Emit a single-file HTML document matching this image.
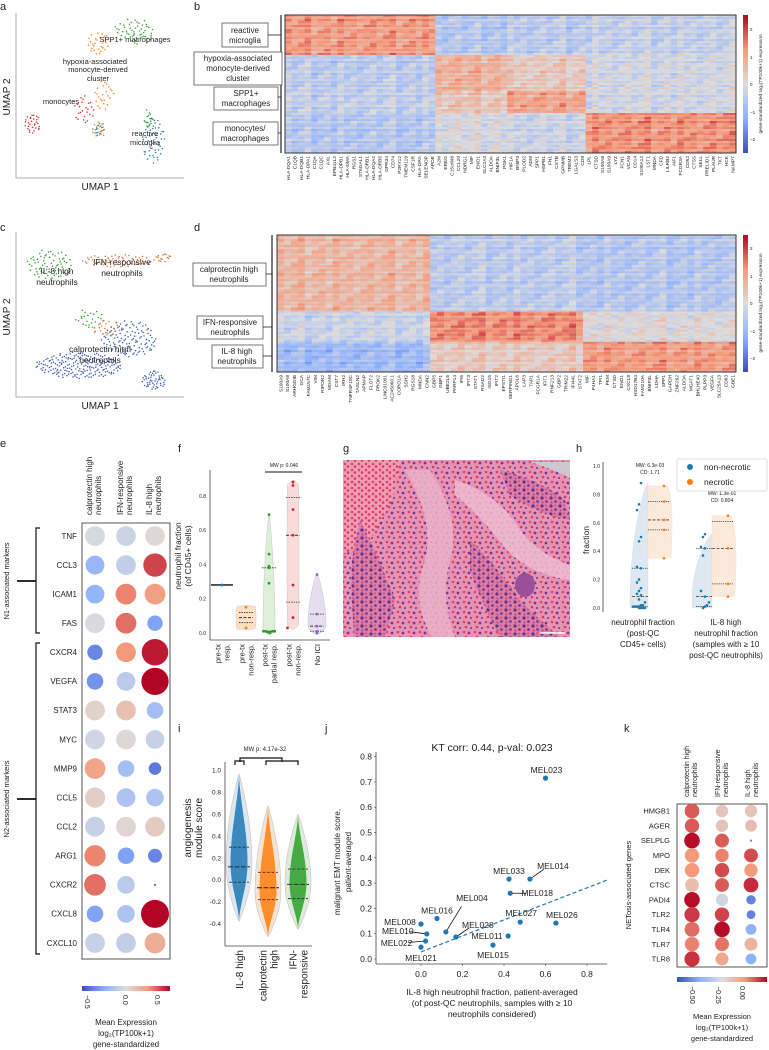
<!DOCTYPE html>
<html><head><meta charset="utf-8">
<style>
body{margin:0;background:#fff}
svg{display:block;font-family:"Liberation Sans",sans-serif}
text{fill:#222}
</style></head>
<body>
<svg id="fig" width="769" height="1050" viewBox="0 0 769 1050" xmlns="http://www.w3.org/2000/svg">
<defs>
  <linearGradient id="cwV" x1="0" y1="1" x2="0" y2="0">
    <stop offset="0" stop-color="#3b4cc0"/><stop offset="0.25" stop-color="#8db0fe"/><stop offset="0.5" stop-color="#dddddd"/><stop offset="0.75" stop-color="#f49a7b"/><stop offset="1" stop-color="#b40426"/>
  </linearGradient>
  <linearGradient id="cwH" x1="0" y1="0" x2="1" y2="0">
    <stop offset="0" stop-color="#3b4cc0"/><stop offset="0.25" stop-color="#8db0fe"/><stop offset="0.5" stop-color="#dddddd"/><stop offset="0.75" stop-color="#f49a7b"/><stop offset="1" stop-color="#b40426"/>
  </linearGradient>
  <pattern id="nuc" width="9" height="8" patternUnits="userSpaceOnUse">
    <rect width="9" height="8" fill="#d77fa8"/>
    <circle cx="2" cy="2" r="1.6" fill="#6b2f86"/><circle cx="6.5" cy="5.5" r="1.4" fill="#7d3a93"/><circle cx="6" cy="1.5" r="1" fill="#e0456a"/><circle cx="2.5" cy="6.5" r="1" fill="#d8365e"/>
  </pattern>
  <pattern id="mix" width="11" height="10" patternUnits="userSpaceOnUse">
    <rect width="11" height="10" fill="#e494b4"/>
    <circle cx="2" cy="2" r="1.3" fill="#e2415f"/><circle cx="7" cy="3" r="1.4" fill="#7a3690"/><circle cx="4" cy="7" r="1.3" fill="#dc3a5c"/><circle cx="9" cy="8" r="1.1" fill="#8a4399"/>
  </pattern>
  <pattern id="rbc" width="7" height="6" patternUnits="userSpaceOnUse">
    <rect width="7" height="6" fill="#ee9cb8"/>
    <circle cx="2" cy="2" r="1.3" fill="#e2415f"/><circle cx="5" cy="4.5" r="1.3" fill="#dc3a5c"/>
  </pattern>
</defs>

<text x="0" y="10" font-size="11">a</text>
<text x="194" y="10" font-size="11">b</text>
<text x="0" y="231" font-size="11">c</text>
<text x="194" y="231" font-size="11">d</text>
<text x="0" y="447" font-size="11">e</text>
<text x="178" y="452" font-size="11">f</text>
<text x="343" y="452" font-size="11">g</text>
<text x="576" y="452" font-size="11">h</text>
<text x="178" y="732" font-size="11">i</text>
<text x="325" y="732" font-size="11">j</text>
<text x="624" y="732" font-size="11">k</text>

<g>
  <line x1="16" y1="13" x2="16" y2="178" stroke="#999" stroke-width="0.8"/>
  <line x1="16" y1="178" x2="184" y2="178" stroke="#999" stroke-width="0.8"/>
  <text x="100" y="190" font-size="10" text-anchor="middle">UMAP 1</text>
  <text transform="translate(10,97) rotate(-90)" font-size="10" text-anchor="middle">UMAP 2</text>
</g>
<g id="umapA"></g>
<g font-size="7.5" text-anchor="middle">
  <text x="135" y="42">SPP1+ macrophages</text>
  <text x="95" y="64">hypoxia-associated</text>
  <text x="98" y="72">monocyte-derived</text>
  <text x="98" y="81">cluster</text>
  <text x="61" y="104">monocytes</text>
  <text x="145" y="136">reactive</text>
  <text x="145" y="145">microglia</text>
</g>

<g>
  <line x1="16" y1="232" x2="16" y2="397" stroke="#999" stroke-width="0.8"/>
  <line x1="16" y1="397" x2="184" y2="397" stroke="#999" stroke-width="0.8"/>
  <text x="100" y="409" font-size="10" text-anchor="middle">UMAP 1</text>
  <text transform="translate(10,317) rotate(-90)" font-size="10" text-anchor="middle">UMAP 2</text>
</g>
<g id="umapC"></g>
<g font-size="8.5" text-anchor="middle">
  <text x="57" y="274">IL-8 high</text>
  <text x="57" y="285">neutrophils</text>
  <text x="122" y="265">IFN-responsive</text>
  <text x="122" y="276">neutrophils</text>
  <text x="100" y="352">calprotectin high</text>
  <text x="100" y="363">neutrophils</text>
</g>

<g id="heatB"></g>
<g id="heatD"></g>

<g font-size="8" text-anchor="middle" stroke-width="0.8">
  <line x1="281" y1="15" x2="281" y2="153" stroke="#222" stroke-width="1.2"/>
  <rect x="222" y="23" width="46" height="24" fill="#fff" stroke="#555"/>
  <text x="245" y="33">reactive</text>
  <text x="245" y="43">microglia</text>
  <line x1="268" y1="35" x2="281" y2="35" stroke="#222"/>
  <rect x="194" y="52" width="88" height="33" fill="#fff" stroke="#555"/>
  <text x="238" y="61">hypoxia-associated</text>
  <text x="238" y="71">monocyte-derived</text>
  <text x="238" y="81">cluster</text>
  <rect x="214" y="87" width="64" height="23" fill="#fff" stroke="#555"/>
  <text x="246" y="96">SPP1+</text>
  <text x="246" y="106">macrophages</text>
  <line x1="278" y1="97" x2="281" y2="97" stroke="#222"/>
  <rect x="213" y="122" width="65" height="23" fill="#fff" stroke="#555"/>
  <text x="245" y="131">monocytes/</text>
  <text x="245" y="141">macrophages</text>
  <line x1="278" y1="133" x2="281" y2="133" stroke="#222"/>
</g>
<g font-size="8" text-anchor="middle" stroke-width="0.8">
  <line x1="272" y1="235" x2="272" y2="372" stroke="#222" stroke-width="1.2"/>
  <rect x="193" y="263" width="73" height="23" fill="#fff" stroke="#555"/>
  <text x="229" y="272">calprotectin high</text>
  <text x="229" y="282">neutrophils</text>
  <line x1="266" y1="274" x2="272" y2="274" stroke="#222"/>
  <rect x="197" y="316" width="66" height="23" fill="#fff" stroke="#555"/>
  <text x="230" y="325">IFN-responsive</text>
  <text x="230" y="335">neutrophils</text>
  <line x1="263" y1="327" x2="272" y2="327" stroke="#222"/>
  <rect x="212" y="345" width="51" height="23" fill="#fff" stroke="#555"/>
  <text x="237" y="354">IL-8 high</text>
  <text x="237" y="364">neutrophils</text>
  <line x1="263" y1="356" x2="272" y2="356" stroke="#222"/>
</g>
<g font-size="4.5">
  <rect x="743" y="15" width="5" height="138" fill="url(#cwV)"/>
  <text x="750" y="31">2</text><text x="750" y="59">1</text><text x="750" y="86">0</text><text x="750" y="114">−1</text><text x="750" y="141">−2</text>
  <text transform="translate(762,84) rotate(-90)" text-anchor="middle" font-size="4.8">gene-standardized log₂(TP100k+1) expression</text>
</g>
<g font-size="4.5">
  <rect x="743" y="235" width="5" height="137" fill="url(#cwV)"/>
  <text x="750" y="250">2</text><text x="750" y="278">1</text><text x="750" y="305">0</text><text x="750" y="333">−1</text><text x="750" y="360">−2</text>
  <text transform="translate(762,303) rotate(-90)" text-anchor="middle" font-size="4.8">gene-standardized log₂(TP100k+1) expression</text>
</g>

<g font-size="8">
  <text transform="translate(92,515) rotate(-90)">calprotectin high</text>
  <text transform="translate(101,515) rotate(-90)">neutrophils</text>
  <text transform="translate(123,515) rotate(-90)">IFN-responsive</text>
  <text transform="translate(132,515) rotate(-90)">neutrophils</text>
  <text transform="translate(152,515) rotate(-90)">IL-8 high</text>
  <text transform="translate(161,515) rotate(-90)">neutrophils</text>
</g>
<g stroke="#111" fill="none">
  <path d="M40,528 H36 V633 H40" stroke-width="1.2"/>
  <line x1="17" y1="581" x2="36" y2="581" stroke-width="1.8"/>
  <path d="M40,643 H36 V954 H40" stroke-width="1.2"/>
  <line x1="17" y1="799" x2="36" y2="799" stroke-width="1.8"/>
</g>
<text transform="translate(9,581) rotate(-90)" font-size="7.5" text-anchor="middle">N1-associated markers</text>
<text transform="translate(9,799) rotate(-90)" font-size="7.5" text-anchor="middle">N2-associated markers</text>
<g id="dotE"></g>
<g font-size="7">
  <rect x="82" y="986" width="88" height="5" fill="url(#cwH)"/>
  <text transform="translate(85,995) rotate(90)">−0.5</text>
  <text transform="translate(123,995) rotate(90)">0.0</text>
  <text transform="translate(155,995) rotate(90)">0.5</text>
  <text x="126" y="1025" text-anchor="middle" font-size="8">Mean Expression</text>
  <text x="126" y="1036" text-anchor="middle" font-size="8">log₂(TP100k+1)</text>
  <text x="126" y="1047" text-anchor="middle" font-size="8">gene-standardized</text>
</g>

<g id="plotF">
  <text transform="translate(181,556) rotate(-90)" font-size="8.5" text-anchor="middle">neutrophil fraction</text>
  <text transform="translate(191,556) rotate(-90)" font-size="8.5" text-anchor="middle">(of CD45+ cells)</text>
  <line x1="265" y1="472" x2="302" y2="472" stroke="#444" stroke-width="1.3"/>
  <text x="284" y="467" font-size="5" text-anchor="middle">MW p: 0.046</text>
</g>

<g>
  <rect x="343" y="460" width="227" height="177" fill="url(#mix)"/>
  <path d="M343,460 H400 L392,500 L370,540 L343,555 Z" fill="url(#rbc)"/>
  <path d="M405,470 Q435,520 425,560 Q410,600 432,637 H455 Q440,600 450,560 Q462,520 430,470 Z" fill="#eab3c9" opacity="0.85"/>
  <path d="M455,480 Q500,495 520,530 Q540,555 570,565 V580 Q530,575 505,548 Q480,515 455,495 Z" fill="#edbcd0" opacity="0.85"/>
  <path d="M360,520 Q380,560 395,600 L385,637 H355 Q350,600 352,560 Z" fill="url(#nuc)"/>
  <path d="M470,540 Q500,570 520,600 Q540,620 560,637 H500 Q480,600 470,570 Z" fill="url(#nuc)"/>
  <path d="M500,470 Q540,480 565,500 L570,520 Q540,515 510,495 Z" fill="url(#nuc)"/>
  <path d="M530,462 Q555,470 570,478 V462 Z" fill="#cfc7cf"/>
  <ellipse cx="525" cy="585" rx="10" ry="12" fill="#9a4f9a"/>
  <line x1="540" y1="633" x2="565" y2="633" stroke="#fff" stroke-width="1.5"/>
</g>

<g id="plotH">
  <text transform="translate(589,540) rotate(-90)" font-size="8.5" text-anchor="middle">fraction</text>
  <text x="650" y="467" font-size="5" text-anchor="middle">MW: 6.3e-03</text>
  <text x="650" y="474" font-size="5" text-anchor="middle">CD: 1.71</text>
  <text x="722" y="495" font-size="5" text-anchor="middle">MW: 1.3e-01</text>
  <text x="722" y="502" font-size="5" text-anchor="middle">CD: 0.804</text>
  <g font-size="8" text-anchor="middle">
    <text x="643" y="625">neutrophil fraction</text>
    <text x="643" y="636">(post-QC</text>
    <text x="643" y="647">CD45+ cells)</text>
    <text x="726" y="625">IL-8 high</text>
    <text x="726" y="636">neutrophil fraction</text>
    <text x="726" y="647">(samples with ≥ 10</text>
    <text x="726" y="658">post-QC neutrophils)</text>
  </g>
  <g>
    <rect x="677" y="459" width="90" height="32" rx="2" fill="#fff" stroke="#ddd"/>
    <circle cx="690" cy="467" r="3" fill="#1f77b4"/>
    <text x="704" y="470" font-size="8.5">non-necrotic</text>
    <circle cx="690" cy="482" r="3" fill="#ff7f0e"/>
    <text x="704" y="485" font-size="8.5">necrotic</text>
  </g>
</g>

<g id="plotI">
  <text transform="translate(191,828) rotate(-90)" font-size="10" text-anchor="middle">angiogenesis</text>
  <text transform="translate(202,828) rotate(-90)" font-size="10" text-anchor="middle">module score</text>
  <text x="265" y="751" font-size="6" text-anchor="middle">MW p: 4.17e-32</text>
  <g stroke="#111" stroke-width="1.2" fill="none">
    <path d="M240,762 V758 H282 V762"/>
    <path d="M235,765 V761 H244 V765"/>
    <path d="M266,765 V761 H298 V765"/>
  </g>
</g>

<g id="plotJ">
  <text x="492" y="751" font-size="10.5" text-anchor="middle">KT corr: 0.44, p-val: 0.023</text>
  <text transform="translate(340,862) rotate(-90)" font-size="8" text-anchor="middle">malignant EMT module score,</text>
  <text transform="translate(351,862) rotate(-90)" font-size="8" text-anchor="middle">patient-averaged</text>
  <text x="492" y="995" font-size="8.5" text-anchor="middle">IL-8 high neutrophil fraction, patient-averaged</text>
  <text x="492" y="1006" font-size="8.5" text-anchor="middle">(of post-QC neutrophils, samples with  ≥ 10</text>
  <text x="492" y="1017" font-size="8.5" text-anchor="middle">neutrophils considered)</text>
</g>

<g font-size="7">
  <text transform="translate(689,797) rotate(-90)">calprotectin high</text>
  <text transform="translate(697,797) rotate(-90)">neutrophils</text>
  <text transform="translate(720,797) rotate(-90)">IFN-responsive</text>
  <text transform="translate(728,797) rotate(-90)">neutrophils</text>
  <text transform="translate(750,797) rotate(-90)">IL-8 high</text>
  <text transform="translate(758,797) rotate(-90)">neutrophils</text>
</g>
<text transform="translate(631,885) rotate(-90)" font-size="7.5" text-anchor="middle">NETosis-associated genes</text>
<g id="dotK"></g>
<g font-size="7">
  <rect x="677" y="977" width="90" height="5" fill="url(#cwH)"/>
  <text transform="translate(690,986) rotate(90)">−0.50</text>
  <text transform="translate(716,986) rotate(90)">−0.25</text>
  <text transform="translate(740,986) rotate(90)">0.00</text>
  <text x="722" y="1019" text-anchor="middle" font-size="7.5">Mean Expression</text>
  <text x="722" y="1030" text-anchor="middle" font-size="7.5">log₂(TP100k+1)</text>
  <text x="722" y="1041" text-anchor="middle" font-size="7.5">gene-standardized</text>
</g>

<script>
const aBlobCx = [7.1, 8.0, 5.0, 5.3, 5.0, 1.0, 4.1, 8.3, 5.0, 7.6];
const aBlobCy = [9.0, 3.5, 8.1, 5.0, 2.9, 3.3, 4.1, 2.3, 2.9, 8.4];
const aBlobSx = [1.2, 0.3, 0.7, 0.6, 0.4, 0.5, 0.6, 0.7, 0.4, 0.8];
const aBlobSy = [0.6, 0.7, 0.7, 0.9, 0.5, 0.6, 0.9, 1.5, 0.5, 0.4];
const aBlobN = [40, 15, 30, 25, 12, 30, 25, 55, 18, 15];
const aBlobColor = ['#2ca02c','#2ca02c','#ff7f0e','#ff7f0e','#1f77b4','#d62728','#d62728','#1f77b4','#ff7f0e','#2ca02c'];
const cBlobCx = [2.0, 4.4, 6.2, 8.9, 3.8, 6.8, 8.3, 5.5];
const cBlobCy = [8.0, 4.7, 8.2, 8.4, 1.9, 3.5, 1.0, 4.2];
const cBlobSx = [1.4, 0.9, 2.2, 0.5, 2.6, 1.7, 0.7, 1.0];
const cBlobSy = [0.9, 0.6, 0.4, 0.25, 0.8, 1.1, 0.6, 0.5];
const cBlobN = [70, 25, 60, 15, 200, 120, 50, 20];
const cBlobColor = ['#2ca02c','#2ca02c','#e8702a','#e8702a','#3b5bb5','#3b5bb5','#3b5bb5','#e8702a'];

const bRowGroups = [20, 18, 11, 20];
const bColGroups = [23, 11, 12, 23];
const bMeans = [[1.0,-0.6,-0.5,-0.4],[-0.5,0.7,0.3,-0.2],[-0.4,0.4,0.9,-0.2],[-0.6,-0.1,-0.3,1.1]];
const bGenes = ['HLA-DQA1','C1QB','HLA-DQB1','HLA-DPA1','C1QA','C1QC','AXL','EPB41L2','HLA-DPB1','HLA-DMA','RGS1','ST6GAL1','HLA-DRB1','HLA-DQA2','HLA-DRB5','GPR34','CD74','P2RY12','TMEM119','CSF1R','HLA-DRA','SELENOP','APOE','A2M','EREG','C15orf48','CCL20','NDRG1','MIF','ENO1','SLC2A3','ALDOA','BNIP3L','PGK1','HIF1A','BNIP3','PLOD2','ADM','SPP1','HSPB1','FN1','CSTB','GPNMB','TREM2','LGALS3','CD9','LPL','CTSD','S100A8','S100A9','LYZ','FCN1','VCAN','CD14','S100A12','LST1','MNDA','CFD','LILRB2','AIF1','FCGR3A','CD52','CTSS','SELL','PRELID1','PLAUR','TKT','HCK','NAMPT'];
const dRowGroups = [38, 15, 15];
const dColGroups = [22, 22, 22];
const dMeans = [[0.6,-0.5,-0.6],[-0.3,1.2,0.0],[-0.9,0.3,1.0]];
const dGenes = ['S100A9','S100A8','ARHGDIB','GCA','FAM157C','VIM','RIPOR2','MGAM','CST7','IRH2','TNFRSF10C','TAGLN2','APMAP','FLOT2','PROK2','LINC01001','AC245060.1','CORO1A','SSH2','RGS18','MNDA','CNN2','GBP5','GBP1','UBE2L6','PARP14','IFI6','IFIT3','STAT1','RSAD2','ISG15','IFIT2','EPSTI1','SERPING1','APOL6','LAP3','TAP1','FCGR1A','IFIT1','RNF213','GBP2','TRIM22','IFI44L','STAT2','MIF','P4HA1','TPI1','PKM','CTSD','ENO1','CXCL8','HSD17B4','FAM210A','BNIP3L','LDHA','SPP1','GAPDH','ZNF292','ALDOA','MGAT1','BHLHE40','PLPP3','VEGFA','SLC25A13','CD63','GBE1'];
const colProfile = [0.3,-0.2,0.1,0.5,-0.4,0.0,0.2,-0.3,0.4,-0.1,0.15,-0.25,0.05];
const rowProfile = [0.2,-0.3,0.5,0.0,-0.1,0.35,-0.45,0.1,0.25,-0.2,0.0,0.4,-0.35,0.15,-0.05,0.3,-0.15];
const mixProfile = [0.0,0.6,-0.5,0.2,-0.2,0.8,-0.7,0.1,0.4,-0.3,0.0];

const eGenes = ['TNF','CCL3','ICAM1','FAS','CXCR4','VEGFA','STAT3','MYC','MMP9','CCL5','CCL2','ARG1','CXCR2','CXCL8','CXCL10'];
const eValCal = [-0.03,-0.3,-0.32,-0.02,-0.5,-0.45,0.06,-0.06,0.3,0.08,-0.1,0.4,0.45,-0.4,-0.1];
const eValIfn = [-0.08,-0.12,0.4,0.45,0.35,-0.15,0.15,0.03,-0.25,-0.2,0.04,-0.4,-0.15,-0.2,-0.12];
const eValIl8 = [0.03,0.55,0.32,-0.4,0.65,0.8,-0.25,-0.1,-0.55,-0.2,0.1,-0.5,-0.8,0.9,0.25];
const eFracCal = [0.5,0.45,0.45,0.5,0.3,0.35,0.5,0.5,0.55,0.52,0.5,0.58,0.6,0.35,0.5];
const eFracIfn = [0.5,0.5,0.55,0.55,0.5,0.45,0.5,0.5,0.35,0.45,0.5,0.35,0.4,0.4,0.5];
const eFracIl8 = [0.5,0.7,0.55,0.3,0.9,0.95,0.35,0.45,0.2,0.4,0.5,0.25,0.005,1.0,0.55];

const fCategories = ['pre-tx|resp.','pre-tx|non-resp.','post-tx|partial resp.','post-tx|non-resp.','No ICI'];
const fPoints = [[0.28],[0.15,0.03],[0.69,0.46,0.39,0.38,0.29,0.01,0.01,0.01,0.005,0.0,0.01,0.01],[0.88,0.86,0.72,0.57,0.28,0.09,0.03],[0.34,0.11,0.04,0.01,0.0]];
const fMed = [0.28,0.09,0.01,0.57,0.04];
const fQ1 = [0.28,0.06,0.01,0.18,0.01];
const fQ3 = [0.28,0.12,0.38,0.79,0.11];
const fTicks = [0.0,0.2,0.4,0.6,0.8];

const hGroups = ['neutrophil fraction','IL-8 high neutrophil fraction'];
const hBlue = [[0.88,0.73,0.69,0.5,0.47,0.29,0.28,0.2,0.18,0.14,0.12,0.1,0.09,0.06,0.04,0.02,0.02,0.01,0.01,0.01,0.01,0.0,0.0,0.0,0.0],[0.52,0.5,0.43,0.42,0.37,0.12,0.08,0.04,0.02,0.01,0.0]];
const hOrange = [[0.86,0.75,0.62,0.55,0.35],[0.65,0.42,0.17,0.08]];
const hBlueQ = [[0.01,0.08,0.28],[0.01,0.08,0.42]];
const hOrangeQ = [[0.55,0.62,0.75],[0.17,0.42,0.61]];
const hTicks = [0.0,0.2,0.4,0.6,0.8,1.0];

const iCategories = ['IL-8 high','calprotectin|high','IFN-|responsive'];
const iMin = [-0.38,-0.52,-0.45];
const iMax = [0.97,0.68,0.6];
const iPeak = [0.15,-0.1,-0.03];
const iQ1 = [-0.02,-0.18,-0.17];
const iMed = [0.12,-0.07,-0.04];
const iQ3 = [0.3,0.07,0.1];
const iTicks = [-0.4,-0.2,0.0,0.2,0.4,0.6,0.8,1.0];

const jLabels = ['MEL023','MEL033','MEL014','MEL018','MEL004','MEL016','MEL008','MEL010','MEL022','MEL021','MEL028','MEL011','MEL015','MEL027','MEL026'];
const jX = [0.60,0.424,0.525,0.43,0.12,0.077,0.0,0.028,0.022,0.0,0.168,0.42,0.347,0.478,0.65];
const jY = [0.715,0.316,0.316,0.26,0.107,0.16,0.138,0.099,0.071,0.047,0.087,0.091,0.055,0.146,0.142];
const jTrendX = [0.0, 0.9];
const jTrendY = [0.028, 0.313];
const jXTicks = [0.0,0.2,0.4,0.6,0.8];
const jYTicks = [0.0,0.1,0.2,0.3,0.4,0.5,0.6,0.7,0.8];

const kGenes = ['HMGB1','AGER','SELPLG','MPO','DEK','CTSC','PADI4','TLR2','TLR4','TLR7','TLR8'];
const kValCal = [0.0,0.0,0.1,-0.08,-0.08,-0.18,0.1,0.04,-0.02,-0.05,0.05];
const kValIfn = [-0.2,-0.2,0.0,-0.05,0.02,0.0,-0.3,0.03,0.1,-0.03,-0.12];
const kValIl8 = [-0.2,-0.18,-0.55,0.02,-0.08,0.06,-0.55,-0.55,-0.45,-0.15,-0.45];
const kFracCal = [0.85,0.8,0.95,0.8,0.8,0.75,0.95,0.9,0.85,0.8,0.9];
const kFracIfn = [0.6,0.6,0.75,0.7,0.8,0.75,0.6,0.8,0.95,0.75,0.65];
const kFracIl8 = [0.6,0.55,0.02,0.75,0.7,0.85,0.35,0.3,0.45,0.65,0.45];

const NS = 'http://www.w3.org/2000/svg';
const svg = document.getElementById('fig');
function mk(tag, attrs, parent) {
  const e = document.createElementNS(NS, tag);
  for (const k in attrs) e.setAttribute(k, attrs[k]);
  (parent || svg).appendChild(e);
  return e;
}
const CW = [[-1,[59,76,192]],[-0.5,[141,176,254]],[0,[221,221,221]],[0.5,[244,154,123]],[1,[180,4,38]]];
function cw(t) {
  t = Math.max(-1, Math.min(1, t));
  for (let i = 0; i < CW.length - 1; i++) {
    const a = CW[i], b = CW[i+1];
    if (t <= b[0]) {
      const f = (t - a[0]) / (b[0] - a[0]);
      const c = a[1].map((v, j) => Math.round(v + (b[1][j] - v) * f));
      return 'rgb(' + c.join(',') + ')';
    }
  }
  return 'rgb(180,4,38)';
}
function halton(i, b) { let f = 1, r = 0; while (i > 0) { f /= b; r += f * (i % b); i = Math.floor(i / b); } return r; }

function drawUmap(gid, cx, cy, sx, sy, n, col, x0, y0, sc) {
  const g = document.getElementById(gid);
  for (let b = 0; b < cx.length; b++) {
    let k = 1 + b * 97, acc = 0;
    while (acc < n[b]) {
      const u = 2 * halton(k, 2) - 1, v = 2 * halton(k, 3) - 1; k++;
      if (u * u + v * v > 1) continue;
      acc++;
      const p = mk('circle', {cx: x0 + (cx[b] + u * sx[b]) * sc, cy: y0 - (cy[b] + v * sy[b]) * sc, r: 0.75, fill: col[b]}, g);
      
      
    }
  }
}
drawUmap('umapA', aBlobCx, aBlobCy, aBlobSx, aBlobSy, aBlobN, aBlobColor, 16, 178, 16.6);
drawUmap('umapC', cBlobCx, cBlobCy, cBlobSx, cBlobSy, cBlobN, cBlobColor, 16, 397, 16.6);

function drawHeat(gid, x0, y0, w, h, rowG, colG, means, genes, labelY) {
  const g = document.getElementById(gid);
  const nR = rowG.reduce((a, b) => a + b, 0), nC = colG.reduce((a, b) => a + b, 0);
  const ch = h / nR, cwid = w / nC;
  const rowGrp = [], colGrp = [];
  rowG.forEach((n, i) => { for (let k = 0; k < n; k++) rowGrp.push(i); });
  colG.forEach((n, i) => { for (let k = 0; k < n; k++) colGrp.push(i); });
  for (let r = 0; r < nR; r++) {
    for (let c = 0; c < nC; c++) {
      const v = means[rowGrp[r]][colGrp[c]] + 0.45 * colProfile[c % colProfile.length] + 0.5 * rowProfile[r % rowProfile.length] + 0.35 * mixProfile[(r * 7 + c * 3) % mixProfile.length];
      const cell = mk('rect', {x: (x0 + c * cwid).toFixed(2), y: (y0 + r * ch).toFixed(2), width: (cwid + 0.3).toFixed(2), height: (ch + 0.3).toFixed(2), fill: cw(v / 2.3)}, g);
      
      
    }
  }
  mk('rect', {x: x0, y: y0, width: w, height: h, fill: 'none', stroke: '#333', 'stroke-width': 1}, g);
  for (let c = 0; c < Math.min(nC, genes.length); c++) {
    const t = mk('text', {transform: 'translate(' + (x0 + (c + 0.5) * cwid + 1.8).toFixed(1) + ',' + labelY + ') rotate(-90)', 'font-size': 4.8, 'text-anchor': 'end'}, g);
    t.textContent = genes[c];
    
    
  }
}
drawHeat('heatB', 285, 15, 451, 138, bRowGroups, bColGroups, bMeans, bGenes, 156);
drawHeat('heatD', 277, 235, 459, 137, dRowGroups, dColGroups, dMeans, dGenes, 375);

function drawDots(gid, genes, vals, fracs, bx, by, bw, bh, y0, dy, xs, rmax, colorFn, labelX, fs) {
  const g = document.getElementById(gid);
  mk('rect', {x: bx, y: by, width: bw, height: bh, fill: 'none', stroke: '#555', 'stroke-width': 1}, g);
  genes.forEach((gn, i) => {
    const y = y0 + i * dy;
    const t = mk('text', {x: labelX, y: y + fs * 0.35, 'font-size': fs, 'text-anchor': 'end'}, g);
    t.textContent = gn;
    
    
    for (let j = 0; j < 3; j++) {
      const d = mk('circle', {cx: xs[j], cy: y, r: (rmax * Math.sqrt(fracs[j][i])).toFixed(2), fill: colorFn(vals[j][i])}, g);
      
      
    }
  });
}
drawDots('dotE', eGenes, [eValCal, eValIfn, eValIl8], [eFracCal, eFracIfn, eFracIl8], 82, 523, 88, 436, 536, 29.07, [95, 126, 155], 14, v => cw(v / 0.7), 77, 8);
drawDots('dotK', kGenes, [kValCal, kValIfn, kValIl8], [kFracCal, kFracIfn, kFracIl8], 677, 804, 90, 163, 811, 14.8, [692, 722, 751], 8, v => cw((v + 0.27) / 0.38), 670, 7.5);

function violinPath(cx, yfn, lo, hi, peak, W, side, pow, clipLo, clipHi) {
  const steps = 40, L = [], R = [];
  const a = clipLo === undefined ? lo : clipLo, b = clipHi === undefined ? hi : clipHi;
  for (let s = 0; s <= steps; s++) {
    const v = a + (b - a) * s / steps;
    let f = v < peak ? Math.sin(Math.PI / 2 * (v - lo) / (peak - lo)) : Math.cos(Math.PI / 2 * (v - peak) / (hi - peak));
    f = Math.pow(Math.max(0, f), pow);
    const w = W * f, y = yfn(v);
    L.push([side === 'right' ? cx : cx - w, y]);
    R.push([side === 'left' ? cx : cx + w, y]);
  }
  const pts = L.concat(R.reverse());
  return 'M' + pts.map(p => p[0].toFixed(1) + ',' + p[1].toFixed(1)).join('L') + 'Z';
}
function qline(g, x1, x2, y, dash, w) {
  const l = mk('line', {x1: x1, x2: x2, y1: y, y2: y, stroke: '#333', 'stroke-width': w || 0.8, 'stroke-dasharray': dash}, g);
  
  
}

(function () {
  const g = document.getElementById('plotF');
  const fy = v => 633 - v * 171.5;
  const fx = [222, 246, 269, 293, 317];
  const cols = ['#1f77b4', '#ff7f0e', '#2ca02c', '#d62728', '#9467bd'];
  const fills = ['#1f77b4', '#fbd9b9', '#d4ead0', '#f6d3d3', '#ddd6ea'];
  mk('line', {x1: 210, y1: 470, x2: 210, y2: 640, stroke: '#444', 'stroke-width': 0.8}, g);
  mk('line', {x1: 210, y1: 640, x2: 330, y2: 640, stroke: '#444', 'stroke-width': 0.8}, g);
  fTicks.forEach(t => {
    const tx = mk('text', {x: 206, y: fy(t) + 2, 'font-size': 5, 'text-anchor': 'end'}, g);
    tx.textContent = t.toFixed(1);
    
    
  });
  fCategories.forEach((cat, i) => {
    const pts = fPoints[i];
    const lo = Math.min(...pts), hi = Math.max(...pts);
    if (pts.length > 1) {
      const W = [0, 10, 6, 6, 9][i];
      const peak = i === 1 ? (lo + hi) / 2 : i === 2 ? lo + 0.02 : i === 4 ? lo + 0.04 : (lo + hi) / 2;
      const pow = i === 1 || i === 3 ? 0.05 : 0.8;
      const p = mk('path', {d: violinPath(fx[i], fy, lo - 0.01, hi + 0.01, peak, W, 'both', pow), fill: fills[i], 'fill-opacity': 0.8, stroke: '#bbb', 'stroke-width': 0.4}, g);
      
      
      qline(g, fx[i] - 7, fx[i] + 7, fy(fQ1[i]), '1.5,1');
      qline(g, fx[i] - 7, fx[i] + 7, fy(fMed[i]), '3,1.5', 1);
      qline(g, fx[i] - 7, fx[i] + 7, fy(fQ3[i]), '1.5,1');
    } else {
      qline(g, fx[i] - 11, fx[i] + 11, fy(pts[0]), null, 1.6);
    }
    pts.forEach((v, k) => {
      const off = pts.length > 6 && v < 0.05 ? (k % 6 - 2.5) * 2.2 : 0;
      const c = mk('circle', {cx: fx[i] + off, cy: fy(v), r: 1.4, fill: cols[i]}, g);
      
      
    });
    cat.split('|').forEach((ln, k, arr) => {
      const t = mk('text', {transform: 'translate(' + (fx[i] + 3 + (k - (arr.length - 1) / 2) * 9) + ',644) rotate(-90)', 'font-size': 7.5, 'text-anchor': 'end'}, g);
      t.textContent = ln;
      
      
    });
  });
})();

(function () {
  const g = document.getElementById('plotH');
  const hy = v => 608 - v * 142;
  const cx = [648, 712];
  mk('line', {x1: 603, y1: 462, x2: 603, y2: 612, stroke: '#444', 'stroke-width': 0.8}, g);
  hTicks.forEach(t => {
    const tx = mk('text', {x: 600, y: hy(t) + 2, 'font-size': 5, 'text-anchor': 'end'}, g);
    tx.textContent = t.toFixed(1);
    
    
  });
  hGroups.forEach((gr, i) => {
    const b = hBlue[i], o = hOrange[i];
    const bLo = Math.min(...b), bHi = Math.max(...b), oLo = Math.min(...o), oHi = Math.max(...o);
    const pb = mk('path', {d: violinPath(cx[i], hy, bLo - 0.25, bHi, bLo + 0.05, i ? 20 : 18, 'left', 0.7, bLo, bHi), fill: '#dde8f0', stroke: '#d0dbe5', 'stroke-width': 0.4}, g);
    
    
    const po = mk('path', {d: violinPath(cx[i], hy, oLo - 0.3, oHi + 0.05, (oLo + oHi) / 2, 24, 'right', 0.15, oLo, oHi), fill: '#fbeadb', stroke: '#f1dccb', 'stroke-width': 0.4}, g);
    
    
    hBlueQ[i].forEach((q, k) => qline(g, cx[i] - 16, cx[i], hy(q), k === 1 ? '3,1.5' : '1.2,1'));
    hOrangeQ[i].forEach((q, k) => qline(g, cx[i], cx[i] + 22, hy(q), k === 1 ? '3,1.5' : '1.2,1'));
    b.forEach((v, k) => {
      const off = v < 0.05 ? -3 - (k % 7) * 2 : -7 - (k % 3) * 2;
      const c = mk('circle', {cx: cx[i] + off, cy: hy(v), r: 1.3, fill: '#1f77b4'}, g);
      
      
    });
    o.forEach(v => {
      const c = mk('circle', {cx: cx[i] + 16, cy: hy(v), r: 1.3, fill: '#ff7f0e'}, g);
      
      
    });
  });
})();

(function () {
  const g = document.getElementById('plotI');
  const iy = v => 880 - v * 109.5;
  const ix = [239, 268, 298];
  const cols = ['#1f77b4', '#ff7f0e', '#2ca02c'];
  const fills = ['#dce6f0', '#f5e3d2', '#dcebd8'];
  mk('line', {x1: 225, y1: 762, x2: 225, y2: 946, stroke: '#444', 'stroke-width': 0.8}, g);
  mk('line', {x1: 225, y1: 946, x2: 312, y2: 946, stroke: '#444', 'stroke-width': 0.8}, g);
  iTicks.forEach(t => {
    const tx = mk('text', {x: 221, y: iy(t) + 2.2, 'font-size': 6.5, 'text-anchor': 'end'}, g);
    tx.textContent = t.toFixed(1);
    
    
  });
  iCategories.forEach((cat, i) => {
    const outer = mk('path', {d: violinPath(ix[i], iy, iMin[i], iMax[i], iPeak[i], 13, 'both', 0.9), fill: fills[i], stroke: '#bbb', 'stroke-width': 0.5}, g);
    
    
    const core = mk('path', {d: violinPath(ix[i], iy, iMin[i], iMax[i], iPeak[i], 8.5, 'both', 1.6), fill: cols[i], 'fill-opacity': 0.85}, g);
    
    
    qline(g, ix[i] - 10, ix[i] + 10, iy(iQ1[i]), '3,1.5', 0.9);
    qline(g, ix[i] - 11, ix[i] + 11, iy(iMed[i]), '5,1.5', 1.1);
    qline(g, ix[i] - 10, ix[i] + 10, iy(iQ3[i]), '3,1.5', 0.9);
    cat.split('|').forEach((ln, k, arr) => {
      const t = mk('text', {transform: 'translate(' + (ix[i] + 4 + (k - (arr.length - 1) / 2) * 11) + ',950) rotate(-90)', 'font-size': 10, 'text-anchor': 'end'}, g);
      t.textContent = ln;
      
      
    });
  });
})();

(function () {
  const g = document.getElementById('plotJ');
  const jx = v => 421 + v * 207.5;
  const jy = v => 959 - v * 253;
  mk('line', {x1: 376, y1: 752, x2: 376, y2: 964, stroke: '#444', 'stroke-width': 0.8}, g);
  mk('line', {x1: 376, y1: 964, x2: 607, y2: 964, stroke: '#444', 'stroke-width': 0.8}, g);
  jYTicks.forEach(t => {
    const tx = mk('text', {x: 372, y: jy(t) + 3, 'font-size': 8.5, 'text-anchor': 'end'}, g);
    tx.textContent = t.toFixed(1);
    
    
    mk('line', {x1: 374, x2: 376, y1: jy(t), y2: jy(t), stroke: '#444', 'stroke-width': 0.6}, g);
  });
  jXTicks.forEach(t => {
    const tx = mk('text', {x: jx(t), y: 977, 'font-size': 8.5, 'text-anchor': 'middle'}, g);
    tx.textContent = t.toFixed(1);
    
    
    mk('line', {x1: jx(t), x2: jx(t), y1: 964, y2: 966, stroke: '#444', 'stroke-width': 0.6}, g);
  });
  const tr = mk('line', {x1: jx(jTrendX[0]), y1: jy(jTrendY[0]), x2: jx(jTrendX[1]), y2: jy(jTrendY[1]), stroke: '#1f77b4', 'stroke-width': 1.2, 'stroke-dasharray': '4,2.5'}, g);
  
  
  const ldx = [1, 0, 23, 27, 26, 0, -21, -29, -29, 0, 22, -21, 0, 1, 6];
  const ldy = [-8, -8, -13, 0, -34, -8, -2, -3, 2, 11, -12, 0, 10, -9, -8];
  const lead = [0, 0, 1, 1, 1, 0, 0, 1, 1, 0, 1, 0, 0, 0, 0];
  jLabels.forEach((lb, i) => {
    const px = jx(jX[i]), py = jy(jY[i]);
    if (lead[i]) {
      const l = mk('line', {x1: px, y1: py, x2: px + ldx[i] * 0.6, y2: py + ldy[i] * 0.75, stroke: '#111', 'stroke-width': 0.8}, g);
      
      
    }
    const c = mk('circle', {cx: px, cy: py, r: 2.6, fill: '#1f77b4'}, g);
    
    
    const t = mk('text', {x: px + ldx[i], y: py + ldy[i] + 3, 'font-size': 8.5, 'text-anchor': 'middle'}, g);
    t.textContent = lb;
    
    
  });
})();
</script>
</svg>
</body></html>
